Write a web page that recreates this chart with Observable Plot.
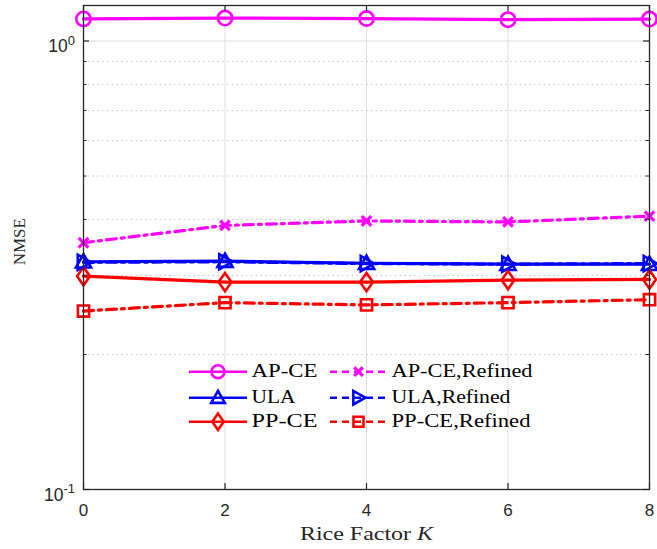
<!DOCTYPE html>
<html><head><meta charset="utf-8">
<script src="https://cdn.jsdelivr.net/npm/d3@7"></script>
<script src="https://cdn.jsdelivr.net/npm/@observablehq/plot@0.6"></script>
<style>body{margin:0;background:#fff} svg{display:block}</style>
</head><body><div id="chart"></div>
<script>
// ---- data ----
const riceFactor = [0, 2, 4, 6, 8];
const xTicks = [0, 2, 4, 6, 8];
const yMajorTicks = [0.1, 1];
const yMinorTicks = [0.2, 0.3, 0.4, 0.5, 0.6, 0.7, 0.8, 0.9];
const seriesNames = ["AP-CE", "ULA", "PP-CE", "AP-CE,Refined", "ULA,Refined", "PP-CE,Refined"];
const apce       = [1.120, 1.125, 1.122, 1.116, 1.119];
const ula        = [0.322, 0.323, 0.3195, 0.318, 0.318];
const ppce       = [0.299, 0.290, 0.290, 0.293, 0.294];
const apceRef    = [0.355, 0.388, 0.397, 0.395, 0.407];
const ulaRef     = [0.321, 0.322, 0.319, 0.318, 0.319];
const ppceRef    = [0.250, 0.261, 0.258, 0.261, 0.265];
const seriesValues = [apce, ula, ppce, apceRef, ulaRef, ppceRef];

// ---- symbols ----
function poly(pts) {
  return {draw(ctx, size) {
    const r = Math.sqrt(size / Math.PI);
    ctx.moveTo(pts[0][0] * r, pts[0][1] * r);
    for (let i = 1; i < pts.length; ++i) ctx.lineTo(pts[i][0] * r, pts[i][1] * r);
    ctx.closePath();
  }};
}
const symCircle = {draw(ctx, size) { const r = Math.sqrt(size / Math.PI) * 0.9; ctx.moveTo(r, 0); ctx.arc(0, 0, r, 0, 2 * Math.PI); }};
const symTriUp = poly([[0, -0.95], [0.95, 0.72], [-0.95, 0.72]]);
const symTriRight = poly([[0.95, 0], [-0.72, -0.95], [-0.72, 0.95]]);
const symDiamond = poly([[0, -1.15], [0.8, 0], [0, 1.15], [-0.8, 0]]);
const symSquare = poly([[-0.7, -0.7], [0.7, -0.7], [0.7, 0.7], [-0.7, 0.7]]);
const symTimes = {draw(ctx, size) { const a = Math.sqrt(size / Math.PI) * 0.6; ctx.moveTo(-a, -a); ctx.lineTo(a, a); ctx.moveTo(-a, a); ctx.lineTo(a, -a); }};

const DASHDOT = "10,5,3,5";
const styleOf = {
  "AP-CE":         {color: "#ff00ff", dash: null,    symbol: symCircle,   sw: 2.6},
  "ULA":           {color: "#0000ff", dash: null,    symbol: symTriUp,    sw: 2.6},
  "PP-CE":         {color: "#ff0000", dash: null,    symbol: symDiamond,  sw: 2.6},
  "AP-CE,Refined": {color: "#ff00ff", dash: DASHDOT, symbol: symTimes,    sw: 3.2},
  "ULA,Refined":   {color: "#0000ff", dash: DASHDOT, symbol: symTriRight, sw: 2.6},
  "PP-CE,Refined": {color: "#ff0000", dash: DASHDOT, symbol: symSquare,   sw: 2.6}
};

const rows = seriesNames.map((name, i) => riceFactor.map((k, j) => ({series: name, k, v: seriesValues[i][j]})));

const W = 657, H = 549, ML = 83, MR = 8, MT = 5, MB = 60;
const IW = W - ML - MR, IH = H - MT - MB;
const R = 8;

const seriesMarks = seriesNames.flatMap((name, i) => {
  const s = styleOf[name];
  return [
    Plot.line(rows[i], {x: "k", y: "v", stroke: s.color, strokeWidth: 3.2, strokeDasharray: s.dash}),
    Plot.dot(rows[i], {x: "k", y: "v", r: R, symbol: s.symbol, stroke: s.color, strokeWidth: s.sw, fill: "none"})
  ];
});

const plot = Plot.plot({
  width: W, height: H,
  marginLeft: ML, marginRight: MR, marginTop: MT, marginBottom: MB,
  x: {domain: [0, 8]},
  y: {type: "log", domain: [0.1, 1.2], axis: null},
  style: {fontFamily: "'Liberation Sans', Arial, sans-serif", fontSize: "17px", color: "#262626", background: "#fff", overflow: "visible"},
  marks: [
    Plot.ruleX(xTicks.filter(d => d > 0 && d < 8), {stroke: "#dedede", strokeWidth: 1, strokeOpacity: 1}),
    Plot.ruleY([1], {stroke: "#dedede", strokeWidth: 1, strokeOpacity: 1}),
    Plot.ruleY(yMinorTicks, {stroke: "#b8b8b8", strokeWidth: 1, strokeDasharray: "1.2,3.6", strokeOpacity: 1}),
    ...seriesMarks,
    Plot.frame({stroke: "#262626", strokeWidth: 1.3}),
    Plot.ruleY(yMajorTicks, {insetRight: IW - 6, stroke: "#262626", strokeWidth: 1.2}),
    Plot.ruleY(yMajorTicks, {insetLeft: IW - 6, stroke: "#262626", strokeWidth: 1.2}),
    Plot.ruleY(yMinorTicks, {insetRight: IW - 3.5, stroke: "#262626", strokeWidth: 1}),
    Plot.ruleY(yMinorTicks, {insetLeft: IW - 3.5, stroke: "#262626", strokeWidth: 1}),
    Plot.ruleX(xTicks, {insetTop: IH - 6, stroke: "#262626", strokeWidth: 1.2}),
    Plot.ruleX(xTicks, {insetBottom: IH - 6, stroke: "#262626", strokeWidth: 1.2}),
    Plot.axisX({ticks: xTicks, tickSize: 0, tickPadding: 14, label: null, fontSize: 17, tickFormat: d => String(d)})
  ]
});
document.getElementById("chart").appendChild(plot);

const svg = d3.select(plot);
const ys = plot.scale("y");
const SERIF = "'Liberation Serif', 'Times New Roman', serif";

// y tick labels 10^k
const yl = svg.append("g").attr("font-family", "'Liberation Sans', Arial, sans-serif").attr("fill", "#262626");
yMajorTicks.forEach(v => {
  const e = Math.round(Math.log10(v));
  const t = yl.append("text").attr("x", ML - 8).attr("y", ys.apply(v) + 11.5).attr("text-anchor", "end").attr("font-size", 17.5);
  t.append("tspan").text("10");
  t.append("tspan").attr("dy", -7.5).attr("font-size", 13).text(String(e));
});

// axis titles
svg.append("text").attr("x", 300).attr("y", 539.5).attr("text-anchor", "start").attr("font-family", SERIF)
  .attr("font-size", 19).attr("fill", "#262626").attr("textLength", 133).attr("lengthAdjust", "spacingAndGlyphs")
  .call(t => { t.append("tspan").text("Rice Factor "); t.append("tspan").attr("font-style", "italic").text("K"); });
svg.append("text").attr("transform", "translate(25,241.7) rotate(-90)").attr("text-anchor", "middle")
  .attr("font-family", SERIF).attr("font-size", 17.5).attr("fill", "#262626")
  .attr("textLength", 47).attr("lengthAdjust", "spacingAndGlyphs").text("NMSE");

// legend
const legendCols = [{x0: 189, x1: 247, tx: 251.5}, {x0: 330, x1: 387, tx: 391.5}];
const legendRows = [371.7, 397.7, 421.7];
const legendWidths = {"AP-CE": 66, "ULA": 44, "PP-CE": 66, "AP-CE,Refined": 141, "ULA,Refined": 119, "PP-CE,Refined": 139};
const lg = svg.append("g");
seriesNames.forEach((name, i) => {
  const s = styleOf[name];
  const c = legendCols[Math.floor(i / 3)], y = legendRows[i % 3];
  lg.append("line").attr("x1", c.x0).attr("x2", c.x1).attr("y1", y).attr("y2", y)
    .attr("stroke", s.color).attr("stroke-width", 2.6).attr("stroke-dasharray", s.dash ? "7,5" : null);
  lg.append("path").attr("d", d3.symbol(s.symbol, Math.PI * R * R * 0.8)())
    .attr("transform", `translate(${(c.x0 + c.x1) / 2},${y})`)
    .attr("fill", "none").attr("stroke", s.color).attr("stroke-width", s.sw);
  lg.append("text").attr("x", c.tx).attr("y", y + 5.5).attr("text-anchor", "start").attr("font-family", SERIF)
    .attr("font-size", 18.5).attr("fill", "#000").attr("textLength", legendWidths[name]).attr("lengthAdjust", "spacingAndGlyphs").text(name);
});
</script>
</body></html>
